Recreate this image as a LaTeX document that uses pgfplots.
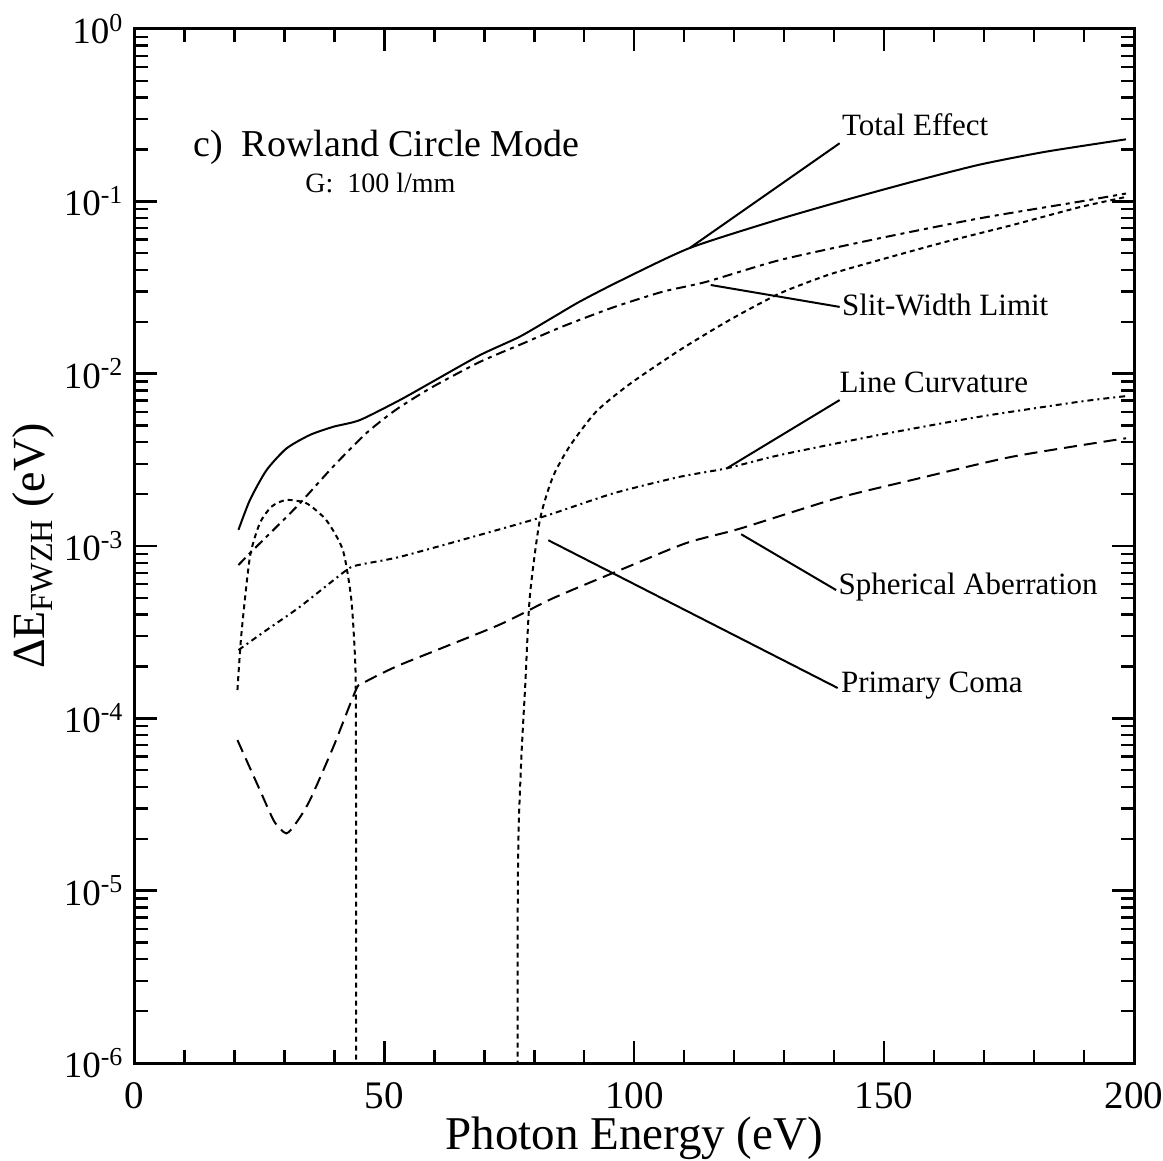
\documentclass[border=0pt]{standalone}
\usepackage{fontspec}
\setmainfont{Liberation Serif}
\usepackage{pgfplots}
\pgfplotsset{compat=1.18}
\pgfplotsset{curve/.style={black, solid, line width=1pt, mark=none, smooth, tension=0.4}}

\pgfplotstableread{
x y
20.8 1.24e-3
23.1 1.85e-3
26.4 2.75e-3
30.4 3.68e-3
35.1 4.41e-3
39.8 4.92e-3
45.1 5.38e-3
53.1 7.03e-3
59.4 8.9e-3
69.1 1.28e-2
77.1 1.64e-2
83.7 2.12e-2
89.1 2.62e-2
97.1 3.45e-2
111.1 5.36e-2
129.1 7.89e-2
142.4 0.102
155.7 0.130
169.0 0.163
182.3 0.194
198.4 0.229
}\total

\pgfplotstableread{
x y
20.8 7.76e-4
23.7 9.46e-4
28.4 1.29e-3
33.1 1.77e-3
39.7 2.88e-3
46.4 4.52e-3
52.3 6.17e-3
59.4 8.3e-3
69.1 1.17e-2
77.8 1.50e-2
85.7 1.88e-2
95.7 2.42e-2
105.7 2.99e-2
114.4 3.41e-2
129.1 4.56e-2
149.0 6.10e-2
169.0 7.96e-2
189.0 9.95e-2
198.4 0.111
}\slit

\pgfplotstableread{
x y
20.6 1.46e-4
21.4 3.11e-4
23.1 8.65e-4
25.1 1.36e-3
27.5 1.70e-3
30.4 1.85e-3
34.4 1.77e-3
38.4 1.41e-3
41.7 9.46e-4
43.4 4.85e-4
44.2 2.0e-4
44.3 8.1e-5
44.35 1e-5
44.4 1e-8
}\comaA

\pgfplotstableread{
x y
76.6 1e-8
76.7 1e-5
77.3 5e-5
78.2 1.58e-4
79.1 5.07e-4
81.1 1.41e-3
83.7 2.51e-3
87.1 3.80e-3
92.4 6.03e-3
99.1 8.71e-3
109.1 1.37e-2
119.1 2.05e-2
129.1 2.92e-2
139.0 3.76e-2
149.0 4.56e-2
162.4 5.83e-2
175.7 7.29e-2
189.0 9.23e-2
198.4 0.106
}\comaB

\pgfplotstableread{
x y
20.8 2.49e-4
26.4 3.25e-4
33.1 4.44e-4
42.4 7.24e-4
44.8 7.76e-4
53.1 8.65e-4
69.1 1.16e-3
81.8 1.48e-3
95.8 2.02e-3
109.1 2.52e-3
118.4 2.82e-3
129.1 3.37e-3
149.0 4.41e-3
169.0 5.62e-3
189.0 6.87e-3
198.4 7.41e-3
}\curv

\pgfplotstableread{
x y
20.6 7.48e-5
25.1 3.83e-5
28.0 2.51e-5
30.4 2.15e-5
32.5 2.51e-5
35.1 3.35e-5
39.8 6.84e-5
44.3 1.46e-4
45.7 1.60e-4
53.1 2.04e-4
72.8 3.47e-4
83.7 4.97e-4
97.1 7.24e-4
110.4 1.04e-3
121.1 1.26e-3
140.5 1.89e-3
155.7 2.42e-3
175.7 3.30e-3
198.4 4.22e-3
}\spher

\begin{document}
\begin{tikzpicture}
\begin{axis}[
  name=ax,
  scale only axis,
  width=499.75pt, height=517pt,
  xmin=0, xmax=200,
  ymode=log, ymin=1e-6, ymax=1,
  xtick={0,50,100,150,200},
  minor x tick num=4,
  ytick={1e-6,1e-5,1e-4,1e-3,1e-2,1e-1,1},
  yticklabels={10\textsuperscript{-6},10\textsuperscript{-5},10\textsuperscript{-4},10\textsuperscript{-3},10\textsuperscript{-2},10\textsuperscript{-1},10\textsuperscript{0}},
  minor ytick={2e-6,3e-6,4e-6,5e-6,6e-6,7e-6,8e-6,9e-6,
               2e-5,3e-5,4e-5,5e-5,6e-5,7e-5,8e-5,9e-5,
               2e-4,3e-4,4e-4,5e-4,6e-4,7e-4,8e-4,9e-4,
               2e-3,3e-3,4e-3,5e-3,6e-3,7e-3,8e-3,9e-3,
               2e-2,3e-2,4e-2,5e-2,6e-2,7e-2,8e-2,9e-2,
               2e-1,3e-1,4e-1,5e-1,6e-1,7e-1,8e-1,9e-1},
  axis line style={line width=1.5pt},
  every tick/.style={black, line width=1.2pt},
  major tick length=11pt,
  minor tick length=6.5pt,
  tick align=inside,
  /pgf/number format/assume math mode=true,
  xticklabel style={font=\fontsize{19.5}{22}\selectfont, yshift=-6pt},
  yticklabel style={font=\fontsize{18.5}{22}\selectfont, xshift=-2pt},
  xlabel={Photon Energy (eV)},
  ylabel={ΔE\textsubscript{FWZH} (eV)},
  xlabel style={font=\fontsize{23.5}{26}\selectfont, at={(axis description cs:0.5,-0.0841)}, anchor=base},
  ylabel style={font=\fontsize{23}{26}\selectfont, at={(axis description cs:-0.09,0.5)}, anchor=base},
]
\addplot[curve] table[x=x,y=y] {\total};
\addplot[curve, dash pattern=on 5pt off 2.5pt on 2pt off 2.5pt] table[x=x,y=y] {\slit};
\addplot[curve, dash pattern=on 2.5pt off 2pt] table[x=x,y=y] {\comaA};
\addplot[curve, dash pattern=on 2.5pt off 2pt] table[x=x,y=y] {\comaB};
\addplot[curve, dash pattern=on 3pt off 2pt on 1pt off 2pt] table[x=x,y=y] {\curv};
\addplot[curve, dash pattern=on 6.5pt off 3.5pt] table[x=x,y=y] {\spher};

\draw[line width=1pt] (axis cs:111.1,0.0536) -- (axis cs:141.1,0.2173);
\draw[line width=1pt] (axis cs:115.3,0.0327) -- (axis cs:141.1,0.0244);
\draw[line width=1pt] (axis cs:118.5,2.82e-3) -- (axis cs:141.1,7.03e-3);
\draw[line width=1pt] (axis cs:121.4,1.17e-3) -- (axis cs:140.4,5.55e-4);
\draw[line width=1pt] (axis cs:82.8,1.08e-3) -- (axis cs:140.7,1.50e-4);

\begin{scope}[every node/.style={anchor=west, inner sep=0pt, font=\fontsize{15.5}{18}\selectfont}]
\node at (axis cs:141.5,0.277) {Total Effect};
\node at (axis cs:141.5,0.0250) {Slit-Width Limit};
\node at (axis cs:141.0,8.93e-3) {Line Curvature};
\node at (axis cs:140.8,5.77e-4) {Spherical Aberration};
\node at (axis cs:141.3,1.54e-4) {Primary Coma};
\end{scope}
\node[anchor=west, inner sep=0pt, font=\fontsize{19}{22}\selectfont] at (axis cs:11.7,0.2065) {c)\ \ Rowland Circle Mode};
\node[anchor=west, inner sep=0pt, font=\fontsize{14}{16}\selectfont] at (axis cs:34.1,0.1276) {G:\ \ 100 l/mm};
\end{axis}
\pgfresetboundingbox
\path[use as bounding box] ([xshift=-67.25pt,yshift=-49pt]ax.south west) rectangle ([xshift=14.5pt,yshift=14.5pt]ax.north east);
\end{tikzpicture}
\end{document}
